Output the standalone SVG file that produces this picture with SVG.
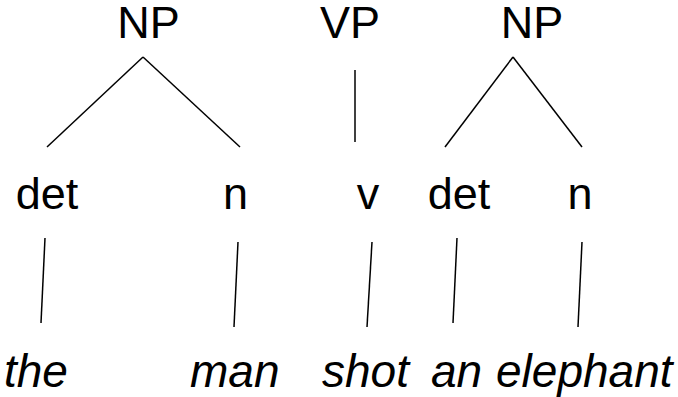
<svg xmlns="http://www.w3.org/2000/svg" width="678" height="397" viewBox="0 0 678 397">
<style>
.lbl{font-family:"Liberation Sans",Arial,sans-serif;font-size:45px;fill:#000;text-anchor:middle}
.word{font-family:"Liberation Sans",Arial,sans-serif;font-size:46px;font-style:italic;fill:#000}
.edge{stroke:#000;stroke-width:1.5;fill:none}
</style>
<rect width="678" height="397" fill="#fff"/>
<g id="connectors">
<line class="edge" x1="143" y1="57" x2="47" y2="147"/>
<line class="edge" x1="143" y1="57" x2="240" y2="147"/>
<line class="edge" x1="355" y1="70" x2="355" y2="142"/>
<line class="edge" x1="513" y1="57" x2="445" y2="147"/>
<line class="edge" x1="513" y1="57" x2="582" y2="147"/>
<line class="edge" x1="45" y1="238" x2="41" y2="323"/>
<line class="edge" x1="238" y1="242" x2="234" y2="327"/>
<line class="edge" x1="372" y1="242" x2="367" y2="327"/>
<line class="edge" x1="457" y1="238" x2="453" y2="323"/>
<line class="edge" x1="582" y1="242" x2="578" y2="327"/>
</g>
<g id="np1"><text class="lbl" x="148.5" y="38">NP</text></g>
<g id="vp"><text class="lbl" x="350" y="38">VP</text></g>
<g id="np2"><text class="lbl" x="532" y="38">NP</text></g>
<g id="det1"><text class="lbl" x="47" y="209">det</text></g>
<g id="n1"><text class="lbl" x="235.5" y="209">n</text></g>
<g id="v"><text class="lbl" x="368" y="209">v</text></g>
<g id="det2"><text class="lbl" x="459" y="209">det</text></g>
<g id="n2"><text class="lbl" x="580" y="209">n</text></g>
<g id="w-the"><text class="word" x="4" y="387">the</text></g>
<g id="w-man"><text class="word" x="190" y="387">man</text></g>
<g id="w-shot"><text class="word" x="322" y="387">shot</text></g>
<g id="w-an"><text class="word" x="431" y="387">an</text></g>
<g id="w-elephant"><text class="word" x="496" y="387">elephant</text></g>
</svg>
